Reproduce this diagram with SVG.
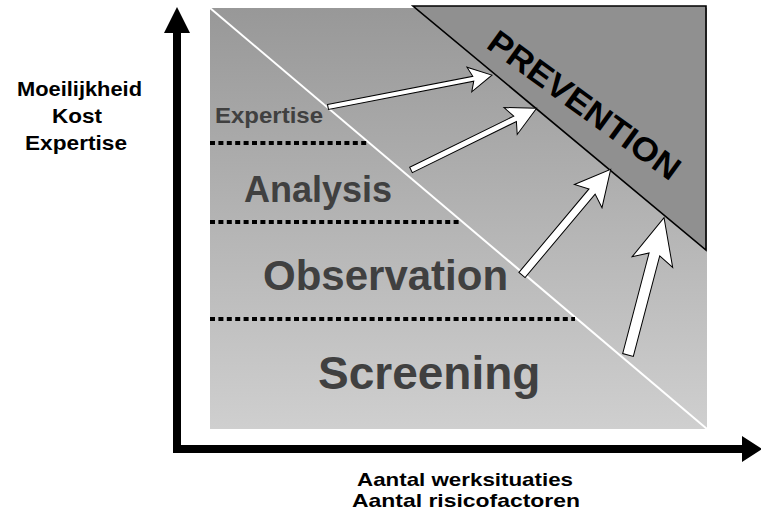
<svg xmlns="http://www.w3.org/2000/svg" width="761" height="515" viewBox="0 0 761 515">
<defs>
<linearGradient id="bg" x1="0" y1="0" x2="0" y2="1">
<stop offset="0" stop-color="#989898"/>
<stop offset="1" stop-color="#cfcfcf"/>
</linearGradient>
</defs>
<style>
.lvl{font-family:"Liberation Sans",Arial,sans-serif;font-weight:bold;fill:#404040}
.lab{font-family:"Liberation Sans",Arial,sans-serif;font-weight:bold;fill:#000;font-size:20px}
.xl{font-size:18.5px}
.dot{stroke:#000;stroke-width:4;stroke-dasharray:5 3.4;fill:none}
.arr{fill:#fff;stroke:#000;stroke-width:1;stroke-linejoin:miter}
.axis{fill:#000}
</style>
<g id="background">
<rect x="210" y="8" width="497" height="421" fill="url(#bg)"/>
</g>
<g id="prevention">
<polygon points="413,6 706,6 706,250" fill="#909090" stroke="#000" stroke-width="1.6"/>
<text class="lab" transform="translate(485,47) rotate(36)" style="font-size:33px" textLength="229" lengthAdjust="spacingAndGlyphs">PREVENTION</text>
</g>
<g id="diagonal">
<line x1="210" y1="8" x2="707" y2="429" stroke="#fff" stroke-width="2"/>
</g>
<g id="levels">
<line class="dot" x1="210" y1="143" x2="368" y2="143"/>
<line class="dot" x1="210" y1="222" x2="462" y2="222"/>
<line class="dot" x1="210" y1="319" x2="575" y2="319"/>
<text class="lvl" x="215" y="123" style="font-size:22px" textLength="108" lengthAdjust="spacingAndGlyphs">Expertise</text>
<text class="lvl" x="244" y="202" style="font-size:36px">Analysis</text>
<text class="lvl" x="263" y="290" style="font-size:42px">Observation</text>
<text class="lvl" x="318" y="389" style="font-size:46px">Screening</text>
</g>
<g id="connectors">
<g transform="translate(328,107) rotate(-11)"><polygon class="arr" points="0,-2.5 148,-2.5 144,-12.5 167,0 144,12.5 148,2.5 0,2.5"/></g>
<g transform="translate(411,170) rotate(-26.2)"><polygon class="arr" points="0,-3 116,-3 111,-15 140,0 111,15 116,3 0,3"/></g>
<g transform="translate(522,275) rotate(-50)"><polygon class="arr" points="0,-4 109,-4 103,-18 138,0 103,18 109,4 0,4"/></g>
<g transform="translate(628,355) rotate(-75.3)"><polygon class="arr" points="0,-5.5 104,-5.5 96,-21 142,0 96,21 104,5.5 0,5.5"/></g>
</g>
<g id="axes">
<polygon class="axis" points="173,453 173,33 164,33 177,7 190,33 181,33 181,445 742,445 742,436 762,449 742,462 742,453"/>
</g>
<g id="y-label">
<text class="lab" x="79.5" y="96" text-anchor="middle" textLength="125" lengthAdjust="spacingAndGlyphs">Moeilijkheid</text>
<text class="lab" x="77" y="123" text-anchor="middle" textLength="50" lengthAdjust="spacingAndGlyphs">Kost</text>
<text class="lab" x="76" y="150" text-anchor="middle" textLength="102" lengthAdjust="spacingAndGlyphs">Expertise</text>
</g>
<g id="x-label">
<text class="lab xl" x="465" y="486" text-anchor="middle" textLength="216" lengthAdjust="spacingAndGlyphs">Aantal werksituaties</text>
<text class="lab xl" x="466" y="507" text-anchor="middle" textLength="228" lengthAdjust="spacingAndGlyphs">Aantal risicofactoren</text>
</g>
</svg>
